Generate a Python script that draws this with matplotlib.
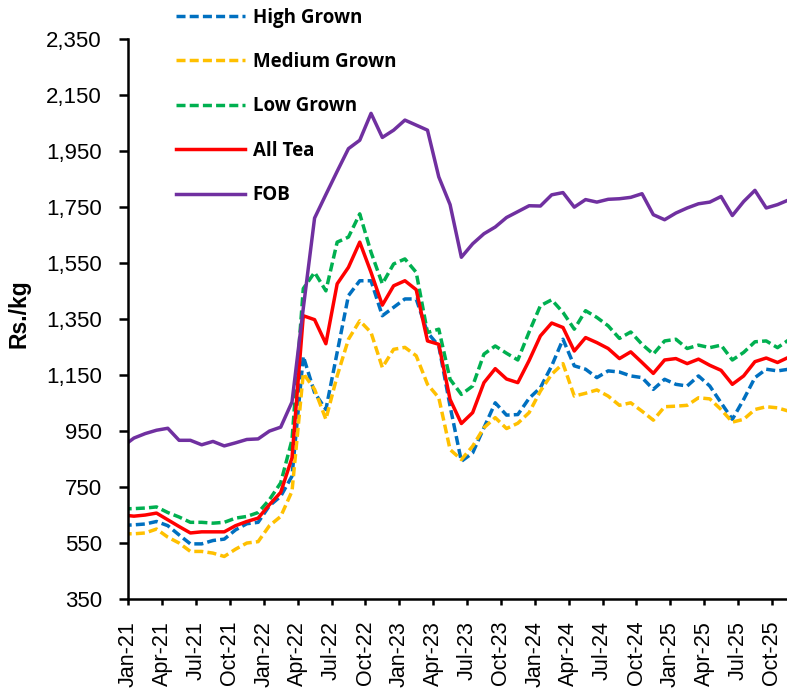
import numpy as np
import pandas as pd
import matplotlib.pyplot as plt

# monthly averages, Dec-20 .. Nov-25 (Dec-20 only feeds the clipped start of each line)
months = pd.date_range('2020-12-01', '2025-11-01', freq='MS')

high_grown = [614, 616, 619, 628, 613, 580, 548, 548, 560, 565, 598, 620, 625,
              684, 718, 790, 1218, 1088, 1028, 1232, 1435, 1488, 1488, 1363, 1393,
              1423, 1423, 1303, 1255, 1040, 843, 873, 963, 1052, 1008, 1010, 1068,
              1106, 1184, 1279, 1184, 1172, 1142, 1166, 1162, 1148, 1142, 1100, 1136,
              1118, 1112, 1148, 1112, 1052, 993, 1064, 1142, 1172, 1166, 1172]
medium_grown = [584, 584, 587, 601, 572, 551, 521, 521, 515, 503, 529, 551, 556,
                613, 646, 736, 1157, 1100, 993, 1148, 1279, 1345, 1303, 1178, 1243,
                1250, 1220, 1118, 1070, 885, 849, 897, 963, 999, 960, 979, 1017,
                1094, 1154, 1192, 1076, 1086, 1098, 1076, 1043, 1052, 1022, 990, 1038,
                1040, 1043, 1070, 1066, 1028, 983, 993, 1028, 1038, 1034, 1022]
low_grown = [673, 674, 676, 680, 660, 644, 625, 625, 622, 625, 640, 646, 660,
             706, 766, 920, 1460, 1518, 1452, 1626, 1644, 1727, 1590, 1477, 1548,
             1566, 1518, 1303, 1315, 1136, 1082, 1112, 1226, 1255, 1229, 1205, 1305,
             1399, 1420, 1375, 1315, 1381, 1357, 1327, 1282, 1305, 1261, 1226, 1273,
             1279, 1246, 1258, 1249, 1258, 1205, 1232, 1270, 1273, 1249, 1277]
all_tea = [651, 647, 651, 658, 634, 610, 587, 591, 591, 591, 613, 628, 640,
           688, 732, 855, 1363, 1349, 1263, 1477, 1536, 1626, 1518, 1401, 1470,
           1488, 1456, 1273, 1261, 1064, 978, 1017, 1124, 1174, 1137, 1124, 1203,
           1291, 1337, 1321, 1237, 1285, 1267, 1246, 1210, 1234, 1196, 1157, 1205,
           1210, 1192, 1208, 1186, 1168, 1118, 1148, 1199, 1212, 1196, 1215]
fob = [896, 926, 942, 954, 961, 918, 918, 902, 914, 898, 909, 921, 923,
       951, 965, 1055, 1390, 1712, 1796, 1879, 1960, 1990, 2086, 2000, 2026,
       2062, 2044, 2026, 1859, 1760, 1572, 1620, 1656, 1680, 1714, 1735, 1756,
       1755, 1795, 1803, 1751, 1778, 1769, 1779, 1781, 1786, 1799, 1724, 1706,
       1730, 1748, 1763, 1769, 1789, 1721, 1771, 1811, 1748, 1760, 1777]

tick_months = pd.date_range('2021-01-01', '2025-10-01', freq='3MS')
tick_labels = [d.strftime('%b-%y') for d in tick_months]

# x in months from Jan-21, points sit mid-month
x = np.arange(len(months)) - 1 + 0.5
tick_pos = [(d.year - 2021) * 12 + d.month - 1 for d in tick_months]

series = [
    ('High Grown', high_grown, '#0070C0', '--'),
    ('Medium Grown', medium_grown, '#FFC000', '--'),
    ('Low Grown', low_grown, '#00B050', '--'),
    ('All Tea', all_tea, '#FF0000', '-'),
    ('FOB', fob, '#7030A0', '-'),
]

fig = plt.figure(figsize=(7.87, 6.95), dpi=100)
ax = fig.add_axes([0.163, 0.1377, 0.837, 0.9432 - 0.1377])

for name, vals, col, ls in series:
    line, = ax.plot(x, vals, color=col, lw=2.5, ls=ls, label=name)
    if ls == '--':
        line.set_dashes((2.6, 1.2))

ax.set_xlim(0, 58.34)
ax.set_ylim(350, 2350)
ax.set_yticks(np.arange(350, 2351, 200))
ax.set_yticklabels([f'{v:,}' for v in range(350, 2351, 200)])
ax.set_xticks(tick_pos)
ax.set_xticklabels(tick_labels, rotation=90)

for s in ['top', 'right']:
    ax.spines[s].set_visible(False)
for s in ['left', 'bottom']:
    ax.spines[s].set_linewidth(1.8)

ax.tick_params(axis='y', direction='out', length=6.5, width=1.8, pad=12.5)
ax.tick_params(axis='x', direction='out', length=4.5, width=1.8, pad=11)
for lab in ax.get_yticklabels():
    lab.set_fontfamily('Liberation Sans')
    lab.set_fontsize(16)
for lab in ax.get_xticklabels():
    lab.set_fontfamily('Liberation Sans')
    lab.set_fontsize(15.5)

ax.set_ylabel('Rs./kg', fontfamily='Liberation Sans', fontweight='bold', fontsize=16.5)
ax.yaxis.set_label_coords(-0.149, 0.511)

fig.legend(loc='upper left', bbox_to_anchor=(0.2233, 0.989), frameon=False,
           borderpad=0, borderaxespad=0, handlelength=3.7, handletextpad=0.4,
           labelspacing=1.3, prop={'family': 'Open Sans', 'weight': 'bold', 'size': 13.5})

fig.savefig('out.png', dpi=100)
